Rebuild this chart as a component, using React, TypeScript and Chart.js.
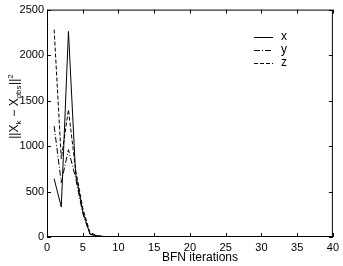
import React, { useEffect, useRef } from "react";
import { Chart, registerables } from "chart.js";

Chart.register(...registerables);

const iterations = Array.from({ length: 40 }, (_, i) => i + 1);
const seriesX = [640, 330, 2260, 700, 280, 35, 10, 4, 2, 1, 1, 0, 0, 0, 0, 0, 0, 0, 0, 0, 0, 0, 0, 0, 0, 0, 0, 0, 0, 0, 0, 0, 0, 0, 0, 0, 0, 0, 0, 0];
const seriesY = [1220, 600, 960, 650, 260, 30, 12, 5, 3, 2, 1, 1, 0, 0, 0, 0, 0, 0, 0, 0, 0, 0, 0, 0, 0, 0, 0, 0, 0, 0, 0, 0, 0, 0, 0, 0, 0, 0, 0, 0];
const seriesZ = [2280, 860, 1400, 740, 320, 50, 15, 6, 3, 2, 1, 1, 0, 0, 0, 0, 0, 0, 0, 0, 0, 0, 0, 0, 0, 0, 0, 0, 0, 0, 0, 0, 0, 0, 0, 0, 0, 0, 0, 0];
const seriesNames = ["x", "y", "z"];
const xTicks = [0, 5, 10, 15, 20, 25, 30, 35, 40];
const yTicks = [0, 500, 1000, 1500, 2000, 2500];

const dashes: number[][] = [[], [6, 2, 1, 2], [4, 2]];
const FONT = "Liberation Sans, Arial, sans-serif";

const framePlugin = {
  id: "frame",
  afterDraw(chart: any) {
    const { ctx, chartArea: a, scales } = chart;
    ctx.save();
    ctx.strokeStyle = "#000";
    ctx.lineWidth = 1;
    ctx.strokeRect(a.left + 0.5, a.top + 0.5, a.right - a.left - 1, a.bottom - a.top - 1);
    const tl = 4;
    ctx.beginPath();
    xTicks.forEach((v) => {
      const px = Math.round(scales.x.getPixelForValue(v)) + 0.5;
      ctx.moveTo(px, a.bottom);
      ctx.lineTo(px, a.bottom - tl);
      ctx.moveTo(px, a.top);
      ctx.lineTo(px, a.top + tl);
    });
    yTicks.forEach((v) => {
      const py = Math.round(scales.y.getPixelForValue(v)) + 0.5;
      ctx.moveTo(a.left, py);
      ctx.lineTo(a.left + tl, py);
      ctx.moveTo(a.right, py);
      ctx.lineTo(a.right - tl, py);
    });
    ctx.stroke();

    // legend
    const lx0 = 254, lx1 = 273, tx = 281;
    const rows = [37, 50, 63];
    ctx.font = `12px ${FONT}`;
    ctx.textBaseline = "middle";
    ctx.fillStyle = "#000";
    seriesNames.forEach((n, i) => {
      ctx.beginPath();
      ctx.setLineDash(dashes[i]);
      ctx.moveTo(lx0, rows[i] + 0.5);
      ctx.lineTo(lx1, rows[i] + 0.5);
      ctx.stroke();
      ctx.setLineDash([]);
      ctx.fillText(n, tx, rows[i]);
    });

    // x title
    ctx.textAlign = "center";
    ctx.textBaseline = "middle";
    ctx.font = `12px ${FONT}`;
    ctx.fillText("BFN iterations", 200, 258);

    // y title with sub/superscripts
    ctx.translate(14, 107);
    ctx.rotate(-Math.PI / 2);
    const parts: [string, number][] = [
      ["||X", 0], ["k", 1], [" \u2212 X", 0], ["obs", 1], ["||", 0], ["2", -1],
    ];
    const mainF = `12px ${FONT}`;
    const smallF = `8px ${FONT}`;
    let total = 0;
    parts.forEach(([t, s]) => {
      ctx.font = s === 0 ? mainF : smallF;
      total += ctx.measureText(t).width;
    });
    let x = -total / 2;
    ctx.textAlign = "left";
    ctx.textBaseline = "alphabetic";
    parts.forEach(([t, s]) => {
      ctx.font = s === 0 ? mainF : smallF;
      const dy = s === 1 ? 3 : s === -1 ? -5 : 0;
      ctx.fillText(t, x, 4 + dy);
      x += ctx.measureText(t).width + (s === 0 ? 0 : 0.5);
    });
    ctx.restore();
  },
};

export default function App() {
  const ref = useRef<HTMLCanvasElement>(null);
  useEffect(() => {
    document.body.style.margin = "0";
    const mk = (label: string, data: number[], i: number) => ({
      label,
      data: data.map((v, k) => ({ x: iterations[k], y: v })),
      borderColor: "#000",
      borderWidth: 1,
      borderDash: dashes[i],
      pointRadius: 0,
      fill: false,
      tension: 0,
    });
    const chart = new Chart(ref.current!, {
      type: "line",
      data: {
        datasets: [mk("x", seriesX, 0), mk("y", seriesY, 1), mk("z", seriesZ, 2)],
      },
      options: {
        responsive: false,
        animation: false,
        layout: { padding: { top: 6, right: 6, left: 0, bottom: 0 } },
        plugins: { legend: { display: false }, tooltip: { enabled: false } },
        scales: {
          x: {
            type: "linear",
            min: 0,
            max: 40,
            afterBuildTicks: (s: any) => { s.ticks = xTicks.map((v) => ({ value: v })); },
            afterFit: (s: any) => { s.height = 29; },
            grid: { display: false, drawTicks: false },
            border: { display: false },
            ticks: { color: "#000", font: { family: FONT, size: 11 }, padding: 4, maxRotation: 0, callback: (v: any) => String(v) },
          },
          y: {
            min: 0,
            max: 2500,
            afterBuildTicks: (s: any) => { s.ticks = yTicks.map((v) => ({ value: v })); },
            afterFit: (s: any) => { s.width = 47; },
            grid: { display: false, drawTicks: false },
            border: { display: false },
            ticks: { color: "#000", font: { family: FONT, size: 11 }, padding: 3, callback: (v: any) => String(v) },
          },
        },
      },
      plugins: [framePlugin],
    } as any);
    return () => chart.destroy();
  }, []);
  return (
    <div style={{ width: 343, height: 266 }}>
      <canvas ref={ref} width={343} height={266} style={{ display: "block" }} />
    </div>
  );
}
